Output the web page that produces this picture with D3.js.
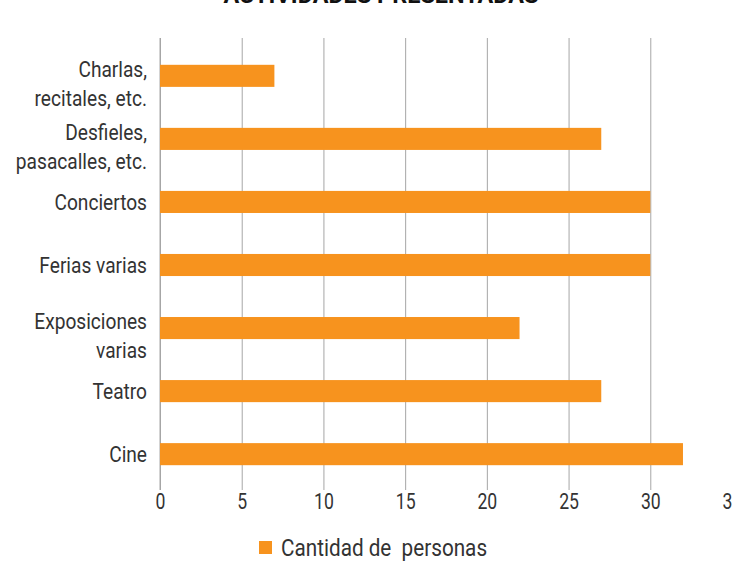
<!DOCTYPE html>
<html>
<head>
<meta charset="utf-8">
<script src="https://cdn.jsdelivr.net/npm/d3@7"></script>
<style>
  body { margin: 0; background: #fff; }
  text { font-family: Roboto, "Liberation Sans", sans-serif; fill: #333; }
</style>
</head>
<body>
<div id="chart"></div>
<script>
// categories top -> bottom, each label split into lines
var categories = [
  ['Charlas,', 'recitales, etc.'],
  ['Desfieles,', 'pasacalles, etc.'],
  ['Conciertos'],
  ['Ferias varias'],
  ['Exposiciones', 'varias'],
  ['Teatro'],
  ['Cine']
];
var values = [7, 27, 30, 30, 22, 27, 32];
var xTicks = [0, 5, 10, 15, 20, 25, 30, 35];
var seriesName = 'Cantidad de  personas';
var title = 'ACTIVIDADES PRESENTADAS';

var W = 732, H = 561;
var margin = {top: 44, left: 160, right: 0, bottom: 75};
var width = W - margin.left - margin.right,
  height = H - margin.top - margin.bottom;

var svg = d3.select('#chart')
  .append('svg')
  .attr('width', W)
  .attr('height', H);

// title, cut off at the top like the source
svg.append('g')
  .attr('transform', 'translate(381,3)')
  .append('text')
  .attr('transform', 'scale(1.02,1)')
  .attr('text-anchor', 'middle')
  .style('font-size', '23px')
  .style('font-weight', 'bold')
  .style('fill', '#111')
  .text(title);

var g = svg.append('g')
  .attr('transform', 'translate(' + margin.left + ',' + margin.top + ')');

var x = d3.scaleLinear()
  .domain([0, 35])
  .range([0, width]);

var y = d3.scaleBand()
  .domain(d3.range(categories.length))
  .range([0, height])
  .paddingInner(0.65)
  .paddingOuter(0.33);

// grid lines + tick labels
var xAxis = g.append('g')
  .attr('transform', 'translate(0,' + (-6) + ')')
  .call(d3.axisBottom(x)
    .tickValues(xTicks)
    .tickSize(height + 10)
    .tickPadding(3)
    .tickFormat(d3.format('d')));
xAxis.select('.domain').remove();
xAxis.selectAll('.tick line').attr('stroke', '#a6a6a6');
xAxis.selectAll('.tick text')
  .attr('transform', 'scale(0.8,1)')
  .style('font-size', '22px')
  .style('fill', '#333');

// left axis line
g.append('line')
  .attr('x1', 0).attr('x2', 0)
  .attr('y1', -6).attr('y2', height + 4)
  .attr('stroke', '#a6a6a6');

// bars
g.selectAll('rect.bar')
  .data(values)
  .enter()
  .append('rect')
  .attr('class', 'bar')
  .attr('x', 0)
  .attr('y', (d, i) => y(i))
  .attr('width', d => x(d))
  .attr('height', y.bandwidth())
  .style('fill', '#f7931e');

// category labels
var labels = g.selectAll('g.cat')
  .data(categories)
  .enter()
  .append('g')
  .attr('class', 'cat')
  .attr('transform', (d, i) => 'translate(-13,' + (y(i) + y.bandwidth() / 2 + (d.length > 1 ? -7 : 0)) + ')')
  .append('text')
  .attr('transform', 'scale(0.87,1)')
  .attr('text-anchor', 'end')
  .style('font-size', '22px');

labels.selectAll('tspan')
  .data(d => d)
  .enter()
  .append('tspan')
  .attr('x', 0)
  .attr('dy', (d, i) => i === 0 ? '0.35em' : '29px')
  .text(d => d);

// legend
var legend = svg.append('g')
  .attr('transform', 'translate(259,541)');
legend.append('rect')
  .attr('width', 13)
  .attr('height', 13)
  .style('fill', '#f7931e');
legend.append('g')
  .attr('transform', 'translate(22,7)')
  .append('text')
  .attr('transform', 'scale(0.9,1)')
  .attr('dy', '0.35em')
  .style('font-size', '23px')
  .style('white-space', 'pre')
  .text(seriesName);
</script>
</body>
</html>
